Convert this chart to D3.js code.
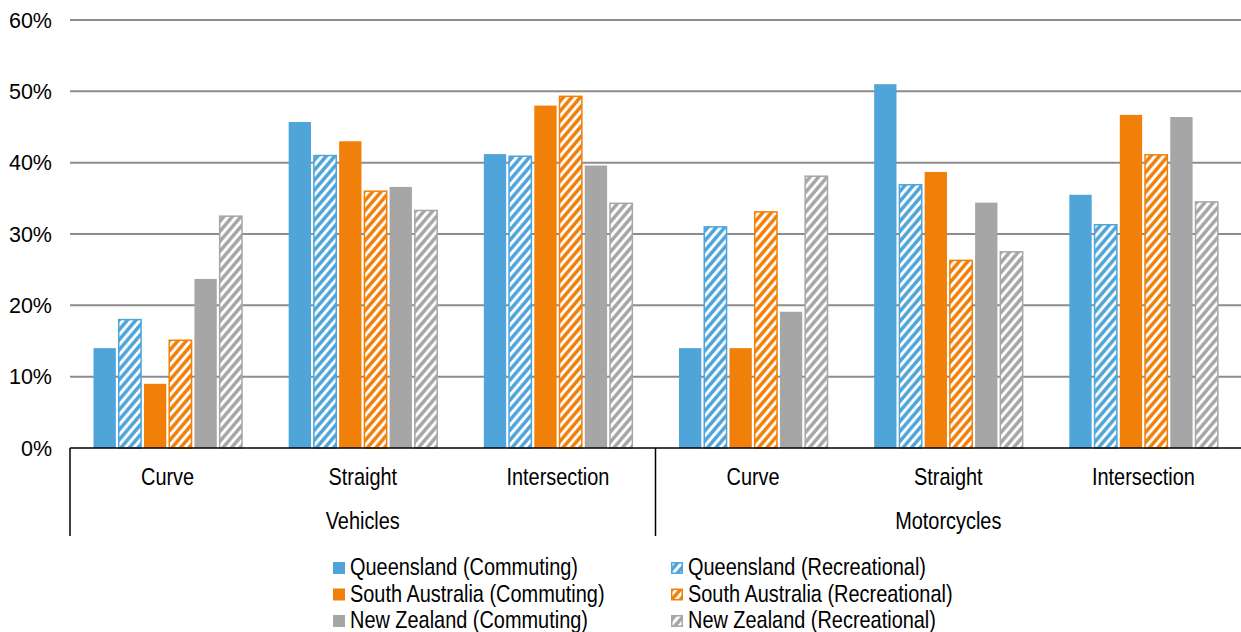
<!DOCTYPE html>
<html>
<head>
<meta charset="utf-8">
<script src="https://cdn.jsdelivr.net/npm/d3@7"></script>
<style>
  html, body { margin: 0; padding: 0; background: #fff; }
  svg { display: block; }
</style>
</head>
<body>
<svg id="chart" width="1241" height="632"></svg>
<script>
// ---- Data ----
const groups = ["Vehicles", "Motorcycles"];
const categories = ["Curve", "Straight", "Intersection"];
const series = [
  "Queensland (Commuting)", "Queensland (Recreational)",
  "South Australia (Commuting)", "South Australia (Recreational)",
  "New Zealand (Commuting)", "New Zealand (Recreational)"
];
// values in percent, order: Vehicles Curve, Straight, Intersection, Motorcycles Curve, Straight, Intersection
const qldCommuting   = [14.0, 45.7, 41.2, 14.0, 51.0, 35.5];
const qldRecreational = [18.0, 41.0, 40.9, 31.0, 36.9, 31.3];
const saCommuting    = [9.0, 43.0, 48.0, 14.0, 38.7, 46.7];
const saRecreational = [15.1, 36.0, 49.3, 33.1, 26.3, 41.1];
const nzCommuting    = [23.7, 36.6, 39.6, 19.1, 34.4, 46.4];
const nzRecreational = [32.5, 33.3, 34.3, 38.1, 27.5, 34.5];
const yTicks = [0, 10, 20, 30, 40, 50, 60];

(function () {
const seriesValues = [qldCommuting, qldRecreational, saCommuting, saRecreational, nzCommuting, nzRecreational];
const colors = ["#4FA5D9", "#4FA5D9", "#F0800A", "#F0800A", "#A6A6A6", "#A6A6A6"];
const hatched = [false, true, false, true, false, true];

// ---- Layout ----
const svg = d3.select("#chart");
const mLeft = 70, mRight = 1241, mTop = 20, mBottom = 448;
const slots = [];
groups.forEach(g => categories.forEach(c => slots.push(g + "|" + c)));

const x0 = d3.scaleBand().domain(slots).range([mLeft, mRight]).padding(0);
const x1 = d3.scaleBand().domain(series).range([23.5, 172]).paddingInner(0.115).paddingOuter(0);
const y = d3.scaleLinear().domain([0, 60]).range([mBottom, mTop]);

// patterns (diagonal stripes, slightly compressed horizontally)
const defs = svg.append("defs");
const T = 10;
const patIds = colors.map((c, i) => {
  if (!hatched[i]) return null;
  const id = "hatch" + i;
  const p = defs.append("pattern").attr("id", id)
    .attr("patternUnits", "userSpaceOnUse").attr("width", T).attr("height", T)
    .attr("patternTransform", "scale(0.85,1)");
  p.append("rect").attr("width", T).attr("height", T).attr("fill", "#fff");
  p.append("path").attr("d", `M-2,2 L2,-2 M0,${T} L${T},0 M${T-2},${T+2} L${T+2},${T-2}`)
    .attr("stroke", c).attr("stroke-width", 3.8);
  return id;
});

// gridlines
svg.append("g").selectAll("line").data(yTicks.filter(t => t > 0)).join("line")
  .attr("x1", mLeft).attr("x2", mRight)
  .attr("y1", d => y(d)).attr("y2", d => y(d))
  .attr("stroke", "#8C8C8C").attr("stroke-width", 2);

// y tick labels
svg.append("g").selectAll("text").data(yTicks).join("text")
  .attr("x", 52).attr("y", d => y(d)).attr("dy", "0.36em")
  .attr("text-anchor", "end")
  .attr("font-family", "'Liberation Sans', Arial, sans-serif")
  .attr("font-size", "21.5px").attr("fill", "#000")
  .text(d => d + "%");

// bars
const barData = [];
slots.forEach((s, si) => {
  series.forEach((ser, k) => {
    barData.push({ slot: s, series: ser, k, value: seriesValues[k][si] });
  });
});
svg.append("g").selectAll("rect").data(barData).join("rect")
  .attr("x", d => x0(d.slot) + x1(d.series))
  .attr("y", d => y(d.value))
  .attr("width", x1.bandwidth())
  .attr("height", d => y(0) - y(d.value))
  .attr("fill", d => hatched[d.k] ? `url(#${patIds[d.k]})` : colors[d.k])
  .attr("stroke", d => hatched[d.k] ? colors[d.k] : "none")
  .attr("stroke-width", 1.5);

// axis lines
const axisG = svg.append("g").attr("stroke", "#000").attr("stroke-width", 1.5);
axisG.append("line").attr("x1", mLeft).attr("x2", mRight).attr("y1", mBottom).attr("y2", mBottom);
[mLeft, x0(slots[3])].forEach(xv => {
  axisG.append("line").attr("x1", xv).attr("x2", xv).attr("y1", mBottom).attr("y2", 536);
});

// condensed text helper
const SX = 0.83;
function ctext(parent, x, yy, str, anchor) {
  parent.append("g").attr("transform", `translate(${x},${yy}) scale(${SX},1)`)
    .append("text")
    .attr("text-anchor", anchor || "start")
    .attr("font-family", "'Liberation Sans', Arial, sans-serif")
    .attr("font-size", "24px").attr("fill", "#000")
    .text(str);
}

// category labels
const catG = svg.append("g");
slots.forEach(s => ctext(catG, x0(s) + x0.bandwidth() / 2, 485, s.split("|")[1], "middle"));

// group labels
const grpG = svg.append("g");
groups.forEach((g, i) => ctext(grpG, x0(slots[i * 3]) + x0.bandwidth() * 1.5, 529, g, "middle"));

// legend
const legend = svg.append("g");
series.forEach((s, k) => {
  const col = k % 2, row = Math.floor(k / 2);
  const sx = col === 0 ? 333 : 671;
  const sy = 562 + row * 26.5;
  legend.append("rect")
    .attr("x", hatched[k] ? sx + 0.75 : sx).attr("y", hatched[k] ? sy + 0.75 : sy)
    .attr("width", hatched[k] ? 10.5 : 12).attr("height", hatched[k] ? 10.5 : 12)
    .attr("fill", hatched[k] ? `url(#${patIds[k]})` : colors[k])
    .attr("stroke", hatched[k] ? colors[k] : "none").attr("stroke-width", 1.5);
  ctext(legend, sx + 17, sy + 13, s, "start");
});
})();
</script>
</body>
</html>
